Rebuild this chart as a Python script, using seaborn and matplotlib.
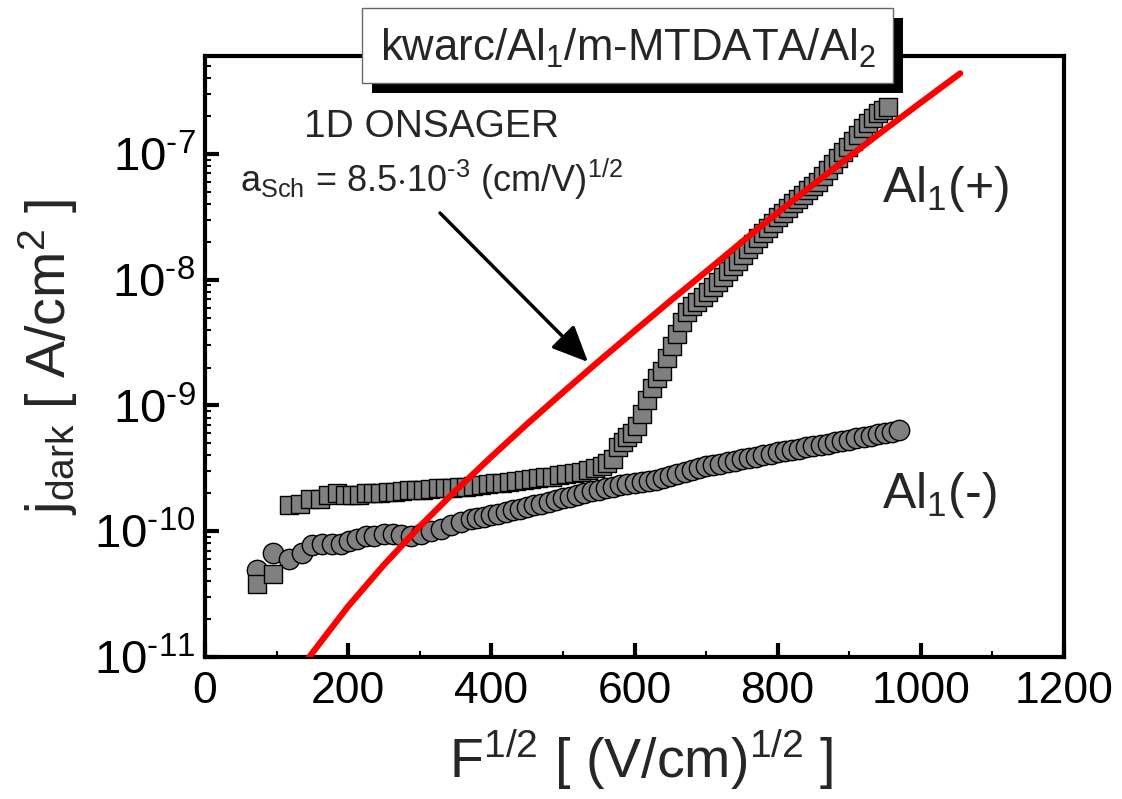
import numpy as np
import pandas as pd
import matplotlib
matplotlib.use('Agg')
import matplotlib.pyplot as plt
import seaborn as sns
from matplotlib.patches import Rectangle
from matplotlib.ticker import LogLocator, MultipleLocator, NullFormatter, FuncFormatter

# Al1(-) : circles, x = F^1/2, y = log10(j_dark)
neg_f = [72, 95, 117, 136, 150, 164, 178, 190, 201, 213, 225, 236, 250, 262,
         274, 288, 302, 316, 330, 344, 358, 372, 380, 390, 400, 410, 420, 430,
         440, 450, 460, 470, 480, 490, 500, 510, 520, 530, 540, 550, 560, 570,
         580, 590, 600, 610, 620, 630, 640, 650, 660, 670, 680, 690, 700, 710,
         720, 730, 740, 750, 760, 770, 780, 790, 800, 810, 820, 830, 840, 850,
         860, 870, 880, 890, 900, 910, 920, 930, 940, 950, 960, 970]
neg_log_j = [-10.31, -10.17, -10.22, -10.17, -10.11, -10.10, -10.10, -10.10,
             -10.08, -10.06, -10.04, -10.04, -10.02, -10.02, -10.03, -10.04,
             -10.02, -10.00, -9.98, -9.95, -9.93, -9.90, -9.895, -9.884,
             -9.872, -9.86, -9.847, -9.834, -9.822, -9.808, -9.794, -9.78,
             -9.766, -9.752, -9.738, -9.724, -9.71, -9.696, -9.684, -9.672,
             -9.66, -9.646, -9.634, -9.626, -9.62, -9.612, -9.604, -9.594,
             -9.578, -9.562, -9.544, -9.528, -9.512, -9.496, -9.485, -9.474,
             -9.462, -9.45, -9.44, -9.428, -9.416, -9.406, -9.396, -9.385,
             -9.374, -9.364, -9.354, -9.344, -9.334, -9.324, -9.313, -9.303,
             -9.293, -9.282, -9.272, -9.262, -9.252, -9.241, -9.231, -9.221,
             -9.208, -9.195]

# Al1(+) : squares
pos_f = [73, 95, 117, 133, 147, 160, 172, 184, 195, 205, 215, 225, 235, 245,
         255, 265, 275, 285, 295, 305, 315, 325, 335, 345, 355, 365, 375, 385,
         395, 405, 415, 425, 435, 445, 455, 465, 475, 485, 495, 505, 515, 525,
         535, 545, 555, 562, 570, 577, 584, 590, 597, 604, 611, 618, 625, 632,
         639, 646, 653, 660, 667, 674, 681, 688, 695, 702, 709, 716, 723, 730,
         737, 744, 751, 758, 765, 772, 779, 786, 793, 800, 807, 814, 821, 828,
         835, 842, 849, 856, 863, 870, 877, 884, 891, 898, 905, 912, 919, 926,
         933, 940, 947, 954]
pos_log_j = [-10.42, -10.34, -9.79, -9.78, -9.74, -9.74, -9.71, -9.70, -9.71,
             -9.71, -9.71, -9.70, -9.70, -9.695, -9.69, -9.685, -9.68, -9.675,
             -9.67, -9.67, -9.665, -9.66, -9.66, -9.655, -9.65, -9.645, -9.64,
             -9.632, -9.625, -9.62, -9.615, -9.61, -9.60, -9.595, -9.588, -9.58,
             -9.57, -9.565, -9.555, -9.548, -9.54, -9.53, -9.515, -9.50, -9.485,
             -9.456, -9.424, -9.328, -9.288, -9.248, -9.216, -9.16, -9.072,
             -8.96, -8.864, -8.784, -8.728, -8.624, -8.528, -8.432, -8.336,
             -8.256, -8.208, -8.176, -8.136, -8.096, -8.056, -8.016, -7.976,
             -7.928, -7.888, -7.848, -7.80, -7.76, -7.72, -7.672, -7.632,
             -7.592, -7.552, -7.504, -7.472, -7.432, -7.392, -7.36, -7.328,
             -7.288, -7.256, -7.224, -7.176, -7.128, -7.08, -7.032, -6.984,
             -6.944, -6.896, -6.848, -6.792, -6.752, -6.712, -6.672, -6.648,
             -6.624]

# 1D Onsager curve
fit_f = [130, 150, 200, 250, 300, 350, 400, 450, 500, 550, 600, 650, 700, 750,
         800, 850, 900, 950, 1000, 1055]
fit_log_j = [-11.127, -10.967, -10.597, -10.267, -9.962, -9.678, -9.408,
             -9.147, -8.896, -8.649, -8.408, -8.169, -7.936, -7.70, -7.468,
             -7.243, -7.022, -6.805, -6.592, -6.36]

neg = pd.DataFrame({'F': neg_f, 'j': 10.0 ** np.array(neg_log_j)})
pos = pd.DataFrame({'F': pos_f, 'j': 10.0 ** np.array(pos_log_j)})
fit = pd.DataFrame({'F': fit_f, 'j': 10.0 ** np.array(fit_log_j)})

sns.set_theme(style='white')
plt.rcParams['font.family'] = ['Liberation Sans', 'DejaVu Sans']
plt.rcParams['mathtext.fontset'] = 'custom'
plt.rcParams['mathtext.rm'] = 'Liberation Sans'
plt.rcParams['mathtext.it'] = 'Liberation Sans:italic'
plt.rcParams['mathtext.bf'] = 'Liberation Sans:bold'
plt.rcParams['axes.unicode_minus'] = False

W, H = 1122, 799
fig = plt.figure(figsize=(W / 100, H / 100), dpi=100)
ax = fig.add_axes([205 / W, 1 - 657 / H, (1064 - 205) / W, (657 - 56) / H])

sns.scatterplot(data=neg, x='F', y='j', marker='o', s=215, color='#808080',
                edgecolor='black', linewidth=1.0, ax=ax, zorder=2)
sns.scatterplot(data=pos, x='F', y='j', marker='s', s=165, color='#808080',
                edgecolor='black', linewidth=1.0, ax=ax, zorder=3)
sns.lineplot(data=fit, x='F', y='j', color='red', linewidth=4.5, ax=ax,
             estimator=None, sort=False, zorder=4)

ax.set_yscale('log')
ax.set_xlim(0, 1200)
ax.set_ylim(1e-11, 6.0e-7)
ax.set_xlabel('')
ax.set_ylabel('')


def decade_label(v, pos):
    e = int(round(np.log10(v)))
    return '10$^{\\text{%d}}$' % e


ax.xaxis.set_major_locator(MultipleLocator(200))
ax.xaxis.set_minor_locator(MultipleLocator(100))
ax.yaxis.set_major_locator(LogLocator(base=10, numticks=12))
ax.yaxis.set_major_formatter(FuncFormatter(decade_label))
ax.yaxis.set_minor_locator(LogLocator(base=10, subs=np.arange(2, 10), numticks=12))
ax.yaxis.set_minor_formatter(NullFormatter())

ax.tick_params(which='major', direction='in', length=10, width=3,
               colors='black', top=False, right=False, bottom=True, left=True)
ax.tick_params(axis='x', which='major', pad=10, labelsize=32)
ax.tick_params(axis='y', which='major', pad=7, labelsize=34)
ax.tick_params(which='minor', direction='in', length=4, width=1.5,
               colors='black', top=False, right=False, bottom=True, left=True)
for sp in ax.spines.values():
    sp.set_linewidth(3)
    sp.set_color('black')

# axis labels
fig.text(48 / W, 1 - 357 / H, r'j$_{\mathrm{dark}}$ [ A/cm$^{2}$ ]',
         rotation=90, ha='center', va='center', fontsize=40)
fig.text(641 / W, 1 - 760 / H, r'F$^{1/2}$ [ (V/cm)$^{1/2}$ ]',
         ha='center', va='center', fontsize=40)

# title box with shadow
fig.add_artist(Rectangle((372 / W, 1 - 93 / H), 531 / W, 75 / H,
                         transform=fig.transFigure, facecolor='black',
                         edgecolor='none', zorder=5))
fig.add_artist(Rectangle((362 / W, 1 - 83 / H), 531 / W, 75 / H,
                         transform=fig.transFigure, facecolor='white',
                         edgecolor='#666666', linewidth=1, zorder=6))
fig.text(628 / W, 1 - 48 / H, r'kwarc/Al$_{1}$/m-MTDATA/Al$_{2}$',
         ha='center', va='center', fontsize=31.5, zorder=7)

# annotations
fig.text(431 / W, 1 - 137 / H, '1D ONSAGER', ha='center', va='baseline',
         fontsize=28)
fig.text(240 / W, 1 - 192 / H,
         r'a$_{\mathrm{Sch}}$ = 8.5$\cdot$10$^{\text{-3}}$ (cm/V)$^{1/2}$',
         ha='left', va='baseline', fontsize=26)
fig.text(882 / W, 1 - 202 / H, r'Al$_{1}$(+)', ha='left', va='baseline',
         fontsize=36)
fig.text(882 / W, 1 - 508 / H, r'Al$_{1}$(-)', ha='left', va='baseline',
         fontsize=36)
ax.annotate('', xy=(588 / W, 1 - 362 / H), xytext=(440 / W, 1 - 213 / H),
            xycoords='figure fraction', textcoords='figure fraction',
            arrowprops=dict(arrowstyle='-|>,head_length=1.0,head_width=0.45',
                            lw=2.5, color='black', mutation_scale=22,
                            shrinkA=0, shrinkB=0))

fig.savefig('out.png', dpi=100)
